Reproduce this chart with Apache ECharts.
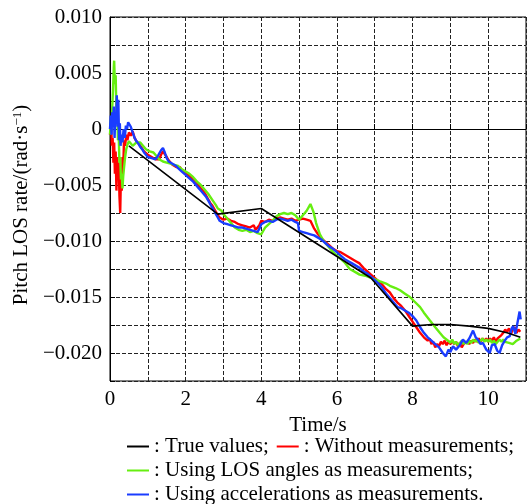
<!DOCTYPE html>
<html>
<head>
<meta charset="utf-8">
<script src="https://cdn.jsdelivr.net/npm/echarts@6/dist/echarts.min.js"></script>
<style>html,body{margin:0;padding:0;background:#fff;}#c{width:529px;height:504px;}</style>
</head>
<body>
<div id="c"></div>
<script>
// Legend / series names
const seriesNames = [': True values;', ': Without measurements;', ': Using LOS angles as measurements;', ': Using accelerations as measurements.'];
const xTicks = [0, 2, 4, 6, 8, 10];
const yTickLabels = ['0.010', '0.005', '0', '\u22120.005', '\u22120.010', '\u22120.015', '\u22120.020'];

// True values [time s, rate rad/s]
const trueValues = [[0.5,-0.0015],[2.85,-0.0076],[4.0,-0.0071],[6.9,-0.0133],[8.0,-0.0176],[8.5,-0.01745],[9.0,-0.01745],[9.5,-0.0176],[10.0,-0.0178],[10.5,-0.0182],[10.85,-0.0186]];

// Without measurements
const withoutMeas = [[0.00,-0.0005],[0.03,0.0003],[0.05,-0.0015],[0.07,-0.0008],[0.09,-0.0030],[0.11,-0.0012],[0.13,-0.0040],[0.15,-0.0020],[0.17,-0.0055],[0.19,-0.0025],[0.21,-0.0045],[0.23,-0.0030],[0.25,-0.0060],[0.27,-0.0075],[0.29,-0.0040],[0.31,-0.0055],[0.33,-0.0025],[0.35,-0.0035],[0.37,-0.0010],[0.40,-0.0015],[0.43,-0.0005],[0.46,-0.0010],[0.50,-0.0003],[0.55,-0.0006],[0.60,-0.0002],[0.65,-0.0008],[0.70,-0.0011],[0.75,-0.0010],[0.80,-0.0015],[0.85,-0.0016],[0.90,-0.0020],[0.95,-0.0019],[1.00,-0.0023],[1.05,-0.0022],[1.10,-0.0025],[1.15,-0.0024],[1.20,-0.0027],[1.25,-0.0026],[1.30,-0.0027],[1.35,-0.0023],[1.40,-0.0020],[1.45,-0.0021],[1.50,-0.0025],[1.55,-0.0028],[1.60,-0.0030],[1.65,-0.0032],[1.70,-0.0031],[1.75,-0.0034],[1.80,-0.0035],[1.85,-0.0034],[1.90,-0.0037],[1.95,-0.0036],[2.00,-0.0039],[2.05,-0.0040],[2.10,-0.0042],[2.15,-0.0043],[2.20,-0.0045],[2.25,-0.0046],[2.30,-0.0048],[2.35,-0.0051],[2.40,-0.0052],[2.45,-0.0055],[2.50,-0.0057],[2.55,-0.0060],[2.60,-0.0063],[2.65,-0.0066],[2.70,-0.0068],[2.75,-0.0071],[2.80,-0.0074],[2.85,-0.0077],[2.90,-0.0079],[2.95,-0.0080],[3.00,-0.0081],[3.10,-0.0080],[3.20,-0.0082],[3.30,-0.0083],[3.40,-0.0085],[3.50,-0.0086],[3.60,-0.0087],[3.70,-0.0088],[3.80,-0.0086],[3.85,-0.0090],[3.90,-0.0091],[3.95,-0.0086],[4.00,-0.0082],[4.10,-0.0083],[4.20,-0.0081],[4.30,-0.0082],[4.40,-0.0080],[4.50,-0.0079],[4.60,-0.0080],[4.70,-0.0081],[4.80,-0.0080],[4.90,-0.0082],[5.00,-0.0081],[5.10,-0.0080],[5.20,-0.0081],[5.30,-0.0082],[5.40,-0.0089],[5.50,-0.0094],[5.60,-0.0098],[5.70,-0.0101],[5.80,-0.0104],[5.90,-0.0107],[6.00,-0.0109],[6.10,-0.0110],[6.20,-0.0112],[6.30,-0.0114],[6.40,-0.0116],[6.50,-0.0118],[6.60,-0.0120],[6.70,-0.0124],[6.80,-0.0127],[6.90,-0.0130],[7.00,-0.0133],[7.10,-0.0136],[7.20,-0.0139],[7.30,-0.0143],[7.40,-0.0146],[7.50,-0.0151],[7.60,-0.0155],[7.70,-0.0158],[7.80,-0.0162],[7.90,-0.0167],[8.00,-0.0172],[8.10,-0.0177],[8.20,-0.0182],[8.30,-0.0186],[8.40,-0.0189],[8.45,-0.0187],[8.50,-0.0192],[8.55,-0.0190],[8.60,-0.0195],[8.65,-0.0192],[8.70,-0.0194],[8.75,-0.0190],[8.80,-0.0192],[8.85,-0.0189],[8.90,-0.0193],[8.95,-0.0190],[9.00,-0.0192],[9.05,-0.0189],[9.10,-0.0192],[9.15,-0.0190],[9.20,-0.0194],[9.25,-0.0191],[9.30,-0.0195],[9.35,-0.0192],[9.40,-0.0193],[9.45,-0.0190],[9.50,-0.0192],[9.55,-0.0189],[9.60,-0.0191],[9.65,-0.0188],[9.70,-0.0190],[9.75,-0.0187],[9.80,-0.0190],[9.85,-0.0187],[9.90,-0.0189],[9.95,-0.0187],[10.00,-0.0190],[10.05,-0.0187],[10.10,-0.0189],[10.15,-0.0186],[10.20,-0.0190],[10.25,-0.0187],[10.30,-0.0188],[10.35,-0.0184],[10.40,-0.0182],[10.45,-0.0179],[10.50,-0.0181],[10.55,-0.0178],[10.60,-0.0183],[10.65,-0.0179],[10.70,-0.0177],[10.75,-0.0182],[10.80,-0.0179],[10.85,-0.0181]];

// Using LOS angles as measurements
const losAngles = [[0.00,-0.0005],[0.02,0.0008],[0.04,-0.0002],[0.06,0.0020],[0.08,0.0035],[0.10,0.0055],[0.11,0.0061],[0.13,0.0040],[0.15,0.0048],[0.17,0.0015],[0.19,0.0025],[0.21,-0.0010],[0.23,-0.0005],[0.25,-0.0030],[0.27,-0.0025],[0.29,-0.0045],[0.31,-0.0040],[0.33,-0.0053],[0.35,-0.0042],[0.37,-0.0035],[0.40,-0.0025],[0.43,-0.0018],[0.46,-0.0014],[0.50,-0.0011],[0.55,-0.0013],[0.60,-0.0015],[0.65,-0.0014],[0.70,-0.0012],[0.75,-0.0013],[0.80,-0.0012],[0.85,-0.0014],[0.90,-0.0016],[0.95,-0.0018],[1.00,-0.0018],[1.05,-0.0020],[1.10,-0.0019],[1.15,-0.0021],[1.20,-0.0023],[1.25,-0.0025],[1.30,-0.0027],[1.35,-0.0028],[1.40,-0.0029],[1.45,-0.0028],[1.50,-0.0030],[1.55,-0.0029],[1.60,-0.0031],[1.70,-0.0032],[1.80,-0.0033],[1.90,-0.0036],[2.00,-0.0038],[2.10,-0.0040],[2.20,-0.0043],[2.30,-0.0047],[2.40,-0.0050],[2.50,-0.0054],[2.60,-0.0058],[2.70,-0.0063],[2.80,-0.0068],[2.85,-0.0071],[2.90,-0.0072],[2.95,-0.0073],[3.00,-0.0076],[3.10,-0.0080],[3.20,-0.0084],[3.30,-0.0088],[3.40,-0.0090],[3.50,-0.0091],[3.60,-0.0090],[3.70,-0.0092],[3.80,-0.0091],[3.90,-0.0093],[4.00,-0.0094],[4.10,-0.0088],[4.20,-0.0085],[4.30,-0.0082],[4.40,-0.0078],[4.50,-0.0076],[4.60,-0.0075],[4.70,-0.0076],[4.80,-0.0075],[4.90,-0.0077],[5.00,-0.0081],[5.10,-0.0077],[5.20,-0.0073],[5.30,-0.0067],[5.38,-0.0074],[5.45,-0.0084],[5.55,-0.0094],[5.65,-0.0100],[5.80,-0.0106],[5.90,-0.0110],[6.00,-0.0113],[6.10,-0.0116],[6.20,-0.0119],[6.34,-0.0125],[6.50,-0.0128],[6.60,-0.0130],[6.75,-0.0131],[6.90,-0.0133],[7.00,-0.0134],[7.14,-0.0136],[7.30,-0.0138],[7.40,-0.0140],[7.55,-0.0142],[7.67,-0.0144],[7.80,-0.0147],[7.93,-0.0150],[8.05,-0.0154],[8.20,-0.0159],[8.30,-0.0164],[8.46,-0.0171],[8.60,-0.0177],[8.72,-0.0182],[8.82,-0.0186],[8.94,-0.0189],[9.00,-0.0191],[9.05,-0.0188],[9.10,-0.0192],[9.15,-0.0190],[9.20,-0.0193],[9.25,-0.0191],[9.30,-0.0189],[9.35,-0.0192],[9.40,-0.0190],[9.45,-0.0192],[9.50,-0.0189],[9.55,-0.0191],[9.60,-0.0188],[9.65,-0.0190],[9.70,-0.0188],[9.75,-0.0191],[9.80,-0.0189],[9.85,-0.0187],[9.90,-0.0190],[9.95,-0.0188],[10.00,-0.0190],[10.05,-0.0188],[10.10,-0.0191],[10.15,-0.0189],[10.20,-0.0192],[10.25,-0.0190],[10.30,-0.0188],[10.35,-0.0190],[10.40,-0.0188],[10.45,-0.0190],[10.50,-0.0189],[10.55,-0.0191],[10.60,-0.0190],[10.65,-0.0192],[10.70,-0.0191],[10.75,-0.0189],[10.80,-0.0190],[10.85,-0.0187]];

// Using accelerations as measurements
const accelMeas = [[0.00,0.0000],[0.02,0.0012],[0.04,-0.0005],[0.06,0.0015],[0.08,0.0002],[0.10,0.0020],[0.12,-0.0008],[0.14,0.0010],[0.16,0.0005],[0.18,0.0030],[0.20,0.0002],[0.22,0.0026],[0.24,-0.0010],[0.26,0.0005],[0.28,-0.0015],[0.30,-0.0005],[0.33,-0.0012],[0.36,0.0000],[0.39,-0.0008],[0.42,0.0003],[0.45,0.0000],[0.48,0.0006],[0.51,0.0007],[0.55,0.0002],[0.60,-0.0003],[0.65,-0.0008],[0.70,-0.0011],[0.75,-0.0013],[0.80,-0.0016],[0.85,-0.0018],[0.90,-0.0021],[0.95,-0.0022],[1.00,-0.0025],[1.05,-0.0024],[1.10,-0.0026],[1.15,-0.0025],[1.20,-0.0027],[1.25,-0.0025],[1.30,-0.0022],[1.35,-0.0019],[1.40,-0.0017],[1.45,-0.0021],[1.50,-0.0026],[1.55,-0.0029],[1.60,-0.0028],[1.65,-0.0031],[1.70,-0.0032],[1.75,-0.0033],[1.80,-0.0035],[1.85,-0.0036],[1.90,-0.0038],[1.95,-0.0039],[2.00,-0.0041],[2.05,-0.0042],[2.10,-0.0044],[2.15,-0.0045],[2.20,-0.0047],[2.25,-0.0049],[2.30,-0.0051],[2.35,-0.0053],[2.40,-0.0055],[2.45,-0.0057],[2.50,-0.0059],[2.55,-0.0061],[2.60,-0.0064],[2.65,-0.0067],[2.70,-0.0070],[2.75,-0.0073],[2.80,-0.0076],[2.85,-0.0079],[2.90,-0.0082],[3.00,-0.0084],[3.10,-0.0085],[3.20,-0.0086],[3.30,-0.0087],[3.40,-0.0088],[3.50,-0.0088],[3.60,-0.0089],[3.70,-0.0090],[3.80,-0.0091],[3.90,-0.0092],[3.95,-0.0089],[4.00,-0.0085],[4.10,-0.0083],[4.20,-0.0082],[4.30,-0.0083],[4.40,-0.0081],[4.50,-0.0080],[4.60,-0.0081],[4.70,-0.0082],[4.80,-0.0081],[4.90,-0.0083],[4.97,-0.0084],[5.00,-0.0091],[5.10,-0.0092],[5.20,-0.0093],[5.30,-0.0094],[5.40,-0.0095],[5.50,-0.0097],[5.60,-0.0099],[5.70,-0.0102],[5.80,-0.0105],[5.90,-0.0107],[6.00,-0.0110],[6.10,-0.0113],[6.20,-0.0116],[6.30,-0.0118],[6.40,-0.0120],[6.50,-0.0122],[6.60,-0.0124],[6.70,-0.0127],[6.80,-0.0129],[6.90,-0.0132],[7.00,-0.0135],[7.10,-0.0138],[7.20,-0.0142],[7.30,-0.0147],[7.40,-0.0151],[7.50,-0.0155],[7.60,-0.0159],[7.70,-0.0160],[7.80,-0.0162],[7.90,-0.0164],[8.00,-0.0167],[8.10,-0.0171],[8.20,-0.0177],[8.30,-0.0182],[8.40,-0.0186],[8.50,-0.0189],[8.60,-0.0192],[8.70,-0.0195],[8.80,-0.0200],[8.88,-0.0203],[8.95,-0.0197],[9.00,-0.0199],[9.07,-0.0194],[9.15,-0.0197],[9.25,-0.0193],[9.33,-0.0188],[9.42,-0.0191],[9.50,-0.0187],[9.60,-0.0180],[9.67,-0.0186],[9.73,-0.0188],[9.80,-0.0192],[9.86,-0.0191],[9.95,-0.0197],[10.04,-0.0200],[10.10,-0.0193],[10.17,-0.0192],[10.24,-0.0198],[10.30,-0.0200],[10.37,-0.0193],[10.44,-0.0189],[10.50,-0.0186],[10.57,-0.0185],[10.62,-0.0178],[10.66,-0.0176],[10.72,-0.0183],[10.78,-0.0172],[10.83,-0.0163],[10.86,-0.0170]];

const FONT = 'Liberation Serif';
const FS = 21;
const chart = echarts.init(document.getElementById('c'), null, {renderer: 'canvas'});

function fmtY(v) {
  const k = Math.round(v * 10000);
  if (k % 50 !== 0) return '';
  const idx = Math.round((0.010 - v) / 0.005);
  return yTickLabels[idx] !== undefined ? yTickLabels[idx] : '';
}

const legendBase = {
  left: 127, orient: 'horizontal', icon: 'rect', itemWidth: 22, itemHeight: 2, itemGap: 8,
  selectedMode: false, padding: 0,
  textStyle: {fontFamily: FONT, fontSize: FS, color: '#000'}
};

chart.setOption({
  animation: false,
  backgroundColor: '#fff',
  grid: {left: 110, right: 3, top: 17, bottom: 123, show: true, borderColor: '#000', borderWidth: 1, backgroundColor: 'transparent'},
  legend: [
    Object.assign({}, legendBase, {top: 436, data: [seriesNames[0], seriesNames[1]]}),
    Object.assign({}, legendBase, {top: 460, data: [seriesNames[2]]}),
    Object.assign({}, legendBase, {top: 484, data: [seriesNames[3]]})
  ],
  xAxis: {
    type: 'value', min: 0, max: 11, interval: 1,
    name: 'Time/s', nameLocation: 'middle', nameGap: 24,
    nameTextStyle: {fontFamily: FONT, fontSize: FS, color: '#000'},
    axisLine: {lineStyle: {color: '#000', width: 1}},
    axisTick: {inside: true, length: 5, lineStyle: {color: '#000'}},
    axisLabel: {fontFamily: FONT, fontSize: FS, color: '#000', margin: 8,
      formatter: v => xTicks.indexOf(Math.round(v)) >= 0 ? String(Math.round(v)) : ''},
    splitLine: {show: true, lineStyle: {color: '#222', width: 1, type: [4, 2]}}
  },
  yAxis: {
    type: 'value', min: -0.0225, max: 0.010, interval: 0.0025,
    name: 'Pitch LOS rate/(rad\u00b7s{sup|\u22121})', nameLocation: 'middle', nameGap: 72,
    nameTextStyle: {fontFamily: FONT, fontSize: FS, color: '#000', padding: [0, 12, 0, 0],
      rich: {sup: {fontFamily: FONT, fontSize: 13, color: '#000', verticalAlign: 'top', padding: [0, 0, 8, 0]}}},
    axisLine: {show: true, lineStyle: {color: '#000', width: 1}},
    axisTick: {inside: true, length: 5, lineStyle: {color: '#000'}},
    axisLabel: {fontFamily: FONT, fontSize: FS, color: '#000', margin: 8, formatter: fmtY},
    splitLine: {show: true, lineStyle: {color: '#222', width: 1, type: [4, 2]}}
  },
  series: [
    {name: seriesNames[1], type: 'line', data: withoutMeas, showSymbol: false, color: '#ff0000', lineStyle: {width: 2.4}},
    {name: seriesNames[2], type: 'line', data: losAngles, showSymbol: false, color: '#66ee11', lineStyle: {width: 2.4}},
    {name: seriesNames[3], type: 'line', data: accelMeas, showSymbol: false, color: '#1a3cff', lineStyle: {width: 2.4}},
    {name: seriesNames[0], type: 'line', data: trueValues, showSymbol: false, color: '#000000', lineStyle: {width: 1.6}}
  ]
});
</script>
</body>
</html>
